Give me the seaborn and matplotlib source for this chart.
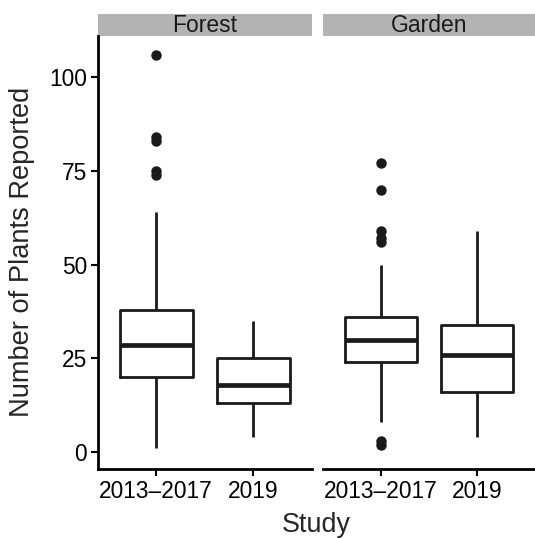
import numpy as np
import pandas as pd
import matplotlib
matplotlib.use("Agg")
import matplotlib.pyplot as plt
from matplotlib.patches import Rectangle
import seaborn as sns

# ---- data ----
habitats = ["Forest", "Garden"]
studies = ["2013\u20132017", "2019"]
forest_2013_2017 = [1, 6, 10, 13, 15, 18, 20, 20, 22, 24, 25, 27, 28, 29, 31, 33,
                    35, 37, 38, 38, 64, 74, 75, 83, 84, 106]
forest_2019 = [4, 8, 11, 13, 15, 17, 18, 20, 23, 25, 28, 31, 35]
garden_2013_2017 = [2, 3, 8, 12, 16, 19, 22, 24, 25, 26, 27, 28, 29, 29, 30, 31,
                    32, 33, 34, 35, 35, 36, 40, 50, 56, 57, 59, 70, 77]
garden_2019 = [4, 8, 12, 16, 19, 22, 26, 28, 31, 34, 40, 48, 59]
y_ticks = [0, 25, 50, 75, 100]

rows = []
for hab, st, vals in [("Forest", studies[0], forest_2013_2017),
                      ("Forest", studies[1], forest_2019),
                      ("Garden", studies[0], garden_2013_2017),
                      ("Garden", studies[1], garden_2019)]:
    for v in vals:
        rows.append({"Habitat": hab, "Study": st, "Plants": v})
df = pd.DataFrame(rows)

sns.set_theme(style="ticks")
plt.rcParams["font.family"] = ["Liberation Sans", "DejaVu Sans"]

W, H = 535, 538
fig = plt.figure(figsize=(W / 100, H / 100), dpi=100)
ax_top = 36
ax_bot = 468.7
panels = [(98, 311.5), (323, 535)]
axes = []
for i, (x0, x1) in enumerate(panels):
    ax = fig.add_axes([x0 / W, 1 - ax_bot / H, (x1 - x0) / W, (ax_bot - ax_top) / H],
                      sharey=axes[0] if axes else None)
    axes.append(ax)

ink = "#1a1a1a"
for ax, hab in zip(axes, habitats):
    sub = df[df["Habitat"] == hab]
    sns.boxplot(data=sub, x="Study", y="Plants", order=studies, ax=ax,
                width=0.75, fill=False, color=ink, linecolor=ink, linewidth=2.0,
                whis=1.5, showcaps=False,
                medianprops=dict(linewidth=3.4, color=ink),
                flierprops=dict(marker="o", markersize=6.5, markerfacecolor=ink,
                                markeredgecolor=ink))
    ax.set_xlim(-0.6, 1.6)
    ax.set_ylim(-4.4, 111)
    ax.set_xlabel("")
    ax.set_ylabel("")
    for s in ["top", "right"]:
        ax.spines[s].set_visible(False)
    ax.spines["bottom"].set_linewidth(2.0)
    ax.spines["left"].set_linewidth(2.0)
    ax.spines["bottom"].set_color("black")
    ax.spines["left"].set_color("black")
    ax.tick_params(axis="x", length=5, width=1.5, color="black", labelsize=16.4,
                   labelcolor="black", pad=3)
    ax.tick_params(axis="y", length=5, width=1.5, color="black", labelsize=16.4,
                   labelcolor="black", pad=3)
    # facet strip
    strip_h = 22 / (ax_bot - ax_top)
    ax.add_patch(Rectangle((0, 1), 1, strip_h, transform=ax.transAxes,
                           facecolor="#b3b3b3", edgecolor="none", clip_on=False))
    ax.text(0.5, 1 + strip_h / 2, hab, transform=ax.transAxes, ha="center",
            va="center", fontsize=16.5, color="#1a1a1a")

axes[0].set_yticks(y_ticks)
axes[1].spines["left"].set_visible(False)
axes[1].tick_params(axis="y", left=False, labelleft=False)

fig.text(316.5 / W, 1 - 525 / H, "Study", ha="center", va="center", fontsize=19.4)
fig.text(22 / W, 1 - ((ax_top + ax_bot) / 2) / H, "Number of Plants Reported",
         ha="center", va="center", rotation=90, fontsize=19.6)

fig.savefig("out.png", dpi=100)
